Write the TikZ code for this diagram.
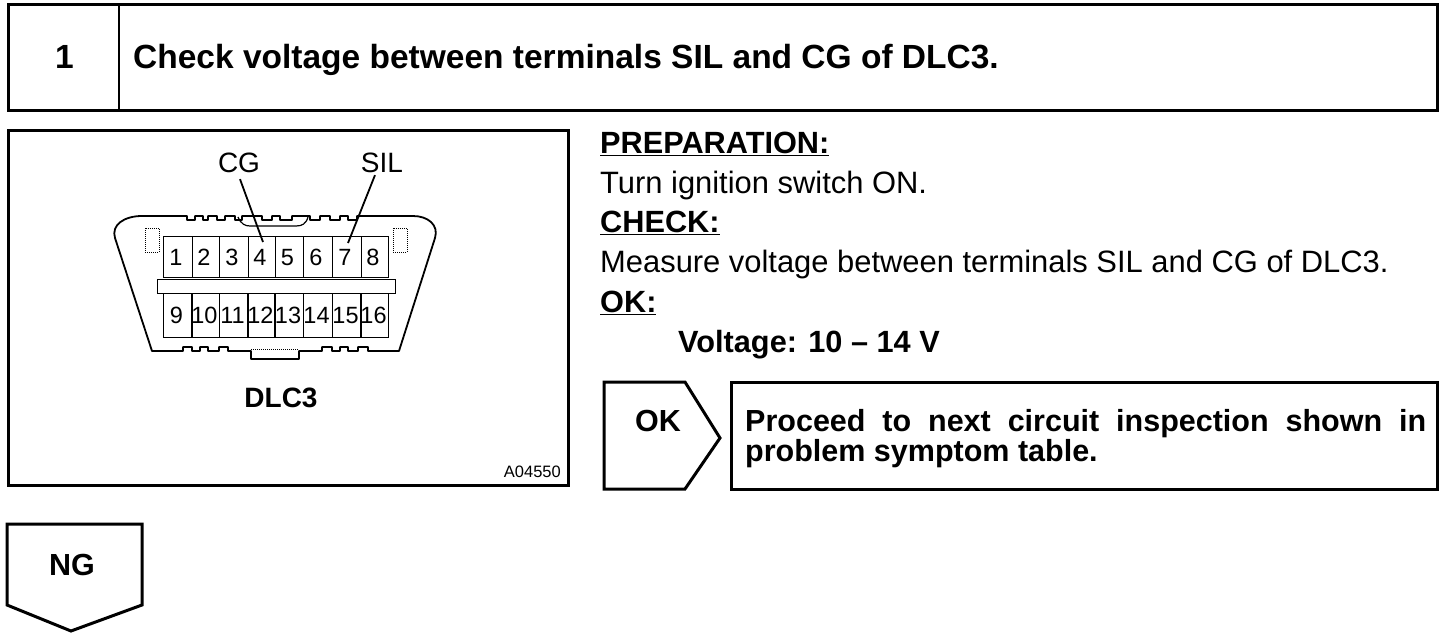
\documentclass[tikz,border=0pt]{standalone}
\usepackage{fontspec}
\setmainfont{Liberation Sans}
\usetikzlibrary{positioning,calc}
\tikzset{
  frame-box/.style={draw,line width=3pt,line join=miter,outer sep=0pt},
  head-text/.style={font=\fontsize{33.5}{36}\selectfont\bfseries,anchor=base west,inner sep=0pt},
  body-text/.style={font=\fontsize{30.9}{34}\selectfont,anchor=base west,inner sep=0pt},
  body-bold/.style={font=\fontsize{30.7}{34}\selectfont\bfseries,anchor=base west,inner sep=0pt},
  flag-text/.style={font=\fontsize{30.5}{34}\selectfont\bfseries,anchor=base west,inner sep=0pt},
  pin-cell/.style={draw,line width=0.9pt,inner sep=0pt,outer sep=0pt,text height=17pt,text depth=0pt,font=\fontsize{23.5}{26}\selectfont},
  dlc-line/.style={draw,line width=1.8pt,line join=round},
  dlc-dot/.style={draw,line width=1pt,densely dotted,inner sep=0pt,outer sep=0pt},
  pin-label/.style={font=\fontsize{28}{30}\selectfont,inner sep=0pt},
  leader/.style={draw,line width=1.8pt},
}
\begin{document}
\begin{tikzpicture}[x=1pt,y=-1pt]
  \useasboundingbox (0,0) rectangle (1456,642);
  % title bar
  \node[frame-box,minimum width=1429pt,minimum height=105pt,anchor=north west] (bar) at (8,5) {};
  \coordinate (divtop) at (119,5);
  \coordinate (divbot) at (119,110);
  \draw[line width=2.4pt] (divtop) -- (divbot);
  \node[head-text] (num) at (55,69) {1};
  \node[head-text] (title) at (133,69) {Check voltage between terminals SIL and CG of DLC3.};
  % connector figure
  \node[frame-box,minimum width=560pt,minimum height=355pt,anchor=north west] (fig) at (8,130) {};
  \draw[dlc-line] (152,351) -- (115,238) .. controls (111,225) and (124,216) .. (142,216)
    \foreach \xa/\xb in {187/195,203/208,217/225,235/242,262/272,280/292,310/320,330/340,348/357} {
      -- (\xa,216) -- (\xa,220) -- (\xb,220) -- (\xb,216) }
    -- (413,216) .. controls (428,216) and (439,225) .. (435,238) -- (399,351)
    \foreach \xa/\xb in {368/358,348/340,332/322} {
      -- (\xa,351) -- (\xa,347) -- (\xb,347) -- (\xb,351) }
    -- (299,351) -- (299,359) -- (251,359) -- (251,351)
    \foreach \xa/\xb in {228/219,208/200,192/183} {
      -- (\xa,351) -- (\xa,347) -- (\xb,347) -- (\xb,351) }
    -- cycle;
  \draw[line width=1.2pt] (238,217) .. controls (241,224) and (245,226) .. (250,226) -- (296,226) .. controls (302,226) and (306,224) .. (308,217);
  \draw[dlc-dot] (251,349) -- (299,349);
  \foreach \name/\xa/\xb in {1/163/192,2/192/219,3/219/248,4/248/275,5/275/303,6/303/332,7/332/361,8/361/388} {
    \node[pin-cell,minimum width=\xb pt-\xa pt,minimum height=41pt] (p\name) at ({(\xa+\xb)/2},257) {\name\hspace*{3pt}};
  }
  \foreach \name/\xa/\xb in {9/163/192,10/192/219,11/219/248,12/248/275,13/275/303,14/303/332,15/332/361,16/361/388} {
    \node[pin-cell,minimum width=\xb pt-\xa pt,minimum height=44pt] (p\name) at ({(\xa+\xb)/2},315) {\name\hspace*{2pt}};
  }
  \node[pin-cell,fill=white,minimum width=238pt,minimum height=14pt,text height=0pt] (rail) at (276,286) {};
  \node[dlc-dot,minimum width=14pt,minimum height=24pt] (lug-l) at (152,240) {};
  \node[dlc-dot,minimum width=14pt,minimum height=24pt] (lug-r) at (400,240) {};
  \node[pin-label] (cg) at (239,163) {CG};
  \node[pin-label] (sil) at (382,163) {SIL};
  \coordinate (cg-end) at (263,242);
  \coordinate (sil-end) at (348,243);
  \draw[leader] (cg.south) ++(1,6) -- (cg-end);
  \draw[leader] (sil.south) ++(-7,2) -- (sil-end);
  \node[font=\fontsize{28}{30}\selectfont\bfseries,inner sep=0pt] (dlc) at (281,398) {DLC3};
  \node[font=\fontsize{16.5}{18}\selectfont,anchor=base east,inner sep=0pt] (code) at (561,477) {A04550};
  % instructions
  \node[body-bold] (prep) at (600,153) {\underline{PREPARATION:}};
  \node[body-text] (turn) at (600,193) {Turn ignition switch ON.};
  \node[body-bold] (chk) at (600,232) {\underline{CHECK:}};
  \node[body-text] (meas) at (600,272) {Measure voltage between terminals SIL and CG of DLC3.};
  \node[body-bold] (okhd) at (600,312) {\underline{OK:}};
  \node[body-bold] (volt) at (678,352) {Voltage: 10 -- 14 V};
  % result flags
  \draw[frame-box] (604,382) -- (685,382) -- (720,438) -- (685,489) -- (604,489) -- cycle;
  \node[flag-text] (ok) at (635,431) {OK};
  \node[frame-box,minimum width=706pt,minimum height=107pt,anchor=north west] (next) at (731,382) {};
  \node[font=\fontsize{30.5}{30}\selectfont\bfseries,text width=681pt,align=justify,inner sep=0pt,anchor=north west] (nexttext) at (745,409)
    {\hyphenpenalty=10000 Proceed to next circuit inspection shown in problem symptom table.};
  \draw[frame-box] (7,524) -- (142,524) -- (142,605) -- (71,631) -- (7,605) -- cycle;
  \node[flag-text] (ng) at (49,575) {NG};
\end{tikzpicture}
\end{document}
